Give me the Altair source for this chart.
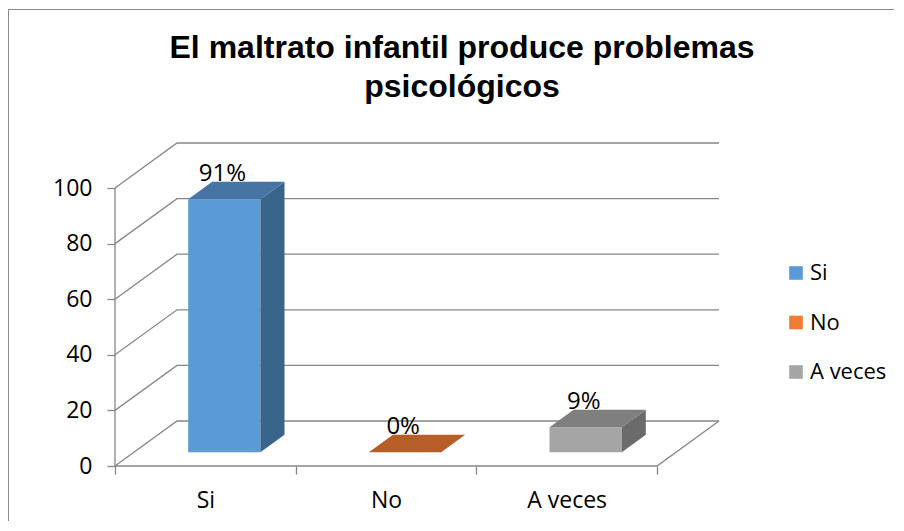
import altair as alt
import pandas as pd

# ---------------- data ----------------
title_lines = ["El maltrato infantil produce problemas", "psicológicos"]
categories = ["Si", "No", "A veces"]
values = [91, 0, 9]
value_labels = ["91%", "0%", "9%"]
y_ticks = [0, 20, 40, 60, 80, 100]

front_colors = ["#5B9BD5", "#ED7D31", "#A5A5A5"]
top_colors = ["#4674A3", "#B65E25", "#7F7F7F"]
side_colors = ["#3A6489", "#9A4E1E", "#6B6B6B"]

# ---------------- layout (3D projection) ----------------
W, H = 886, 513
ORIGIN_X, ORIGIN_Y = 107, 458      # front-plane origin inside the plot
PXX = 180.67                       # px per category
PXY = 2.78                         # px per value unit
x_dom = [-ORIGIN_X / PXX, (W - ORIGIN_X) / PXX]
y_dom = [-(H - ORIGIN_Y) / PXY, ORIGIN_Y / PXY]
WX = 62 / PXX                      # wall depth, x
WY = 45 / PXY                      # wall depth, y
F0, F1 = 0.306, 0.694              # bar depth position (fraction of wall depth)
FD = F1 - F0
BW = 0.4                           # bar width in category units
NC = len(categories)
GRID = "#878787"
FONT = "Open Sans"

# ---------------- derived tables ----------------
lines = []
for v in y_ticks:
    pts = [(0, v), (WX, v + WY), (NC + WX, v + WY)]
    for k, (xx, yy) in enumerate(pts):
        lines.append({"seg": f"g{v}", "o": k, "x": xx, "y": yy})
for k, (xx, yy) in enumerate([(0, 0), (0, max(y_ticks))]):
    lines.append({"seg": "axis", "o": k, "x": xx, "y": yy})
for k, (xx, yy) in enumerate([(0, 0), (NC, 0), (NC + WX, WY)]):
    lines.append({"seg": "floor", "o": k, "x": xx, "y": yy})
lines_df = pd.DataFrame(lines)

front, side, top, lab = [], [], [], []
b = F0 * WY
for i, (cat, v) in enumerate(zip(categories, values)):
    c = i + 0.5 + F0 * WX
    xl, xr = c - BW / 2, c + BW / 2
    front.append({"cat": cat, "x": xl, "x2": xr, "y": b, "y2": b + v})
    side.append({"cat": cat, "col": side_colors[i], "x": xr, "y": b, "y2": b + v})
    side.append({"cat": cat, "col": side_colors[i], "x": xr + FD * WX,
                 "y": b + FD * WY, "y2": b + v + FD * WY})
    top.append({"cat": cat, "col": top_colors[i], "y": b + v, "x": xl, "x2": xr})
    top.append({"cat": cat, "col": top_colors[i], "y": b + v + FD * WY,
                "x": xl + FD * WX, "x2": xr + FD * WX})
    lab.append({"cat": cat, "t": value_labels[i], "x": c - 0.01, "y": b + v + FD * WY})
front_df, side_df, top_df, lab_df = map(pd.DataFrame, (front, side, top, lab))

# ---------------- encodings ----------------
label_expr = " : ".join(
    f"datum.value == {i + 0.5} ? '{c}'" for i, c in enumerate(categories)) + " : ''"
x_values = sorted(set([float(i) for i in range(NC + 1)] + [i + 0.5 for i in range(NC)]))

x_scale = alt.Scale(domain=x_dom, nice=False, zero=False)
y_scale = alt.Scale(domain=y_dom, nice=False, zero=False)
x_axis = alt.Axis(values=x_values, labelExpr=label_expr, offset=-(H - ORIGIN_Y),
                  domain=False, grid=False, tickSize=8, labelPadding=15,
                  labelOverlap=False, title=None,
                  tickOpacity={"condition": {"test": "datum.value % 1 == 0", "value": 1},
                               "value": 0})
y_axis = alt.Axis(values=y_ticks, offset=-ORIGIN_X, domain=False, grid=False,
                  tickSize=8, labelPadding=15, title=None)


def X(f="x"):
    return alt.X(f"{f}:Q", scale=x_scale, axis=x_axis)


def Y(f="y"):
    return alt.Y(f"{f}:Q", scale=y_scale, axis=y_axis)


one = pd.DataFrame({"k": [0]})
border_left = alt.Chart(one).mark_rule(color="#8A8A8A", strokeWidth=1).encode(
    x=alt.value(0.5), y=alt.value(1), y2=alt.value(H))
border_top = alt.Chart(one).mark_rule(color="#8A8A8A", strokeWidth=1).encode(
    x=alt.value(0), x2=alt.value(W), y=alt.value(1.5))

grid = alt.Chart(lines_df).mark_line(color=GRID, strokeWidth=1.3).encode(
    x=X(), y=Y(), detail="seg:N", order="o:Q")

front_layer = alt.Chart(front_df).mark_rect().encode(
    x=X(), x2="x2:Q", y=Y(), y2="y2:Q",
    color=alt.Color("cat:N", scale=alt.Scale(domain=categories, range=front_colors),
                    legend=alt.Legend(title=None, orient="none", legendX=777, legendY=254,
                                      symbolType="square", symbolSize=185,
                                      symbolStrokeWidth=0, labelFont=FONT,
                                      labelFontSize=22, labelColor="black",
                                      rowPadding=27.5, labelOffset=3, padding=0)))

side_layer = alt.Chart(side_df).mark_area(orient="vertical").encode(
    x=X(), y=Y(), y2="y2:Q", fill=alt.Fill("col:N", scale=None), detail="cat:N")

top_layer = alt.Chart(top_df).mark_area(orient="horizontal").encode(
    y=Y(), x=X(), x2="x2:Q", fill=alt.Fill("col:N", scale=None), detail="cat:N")

labels_layer = alt.Chart(lab_df).mark_text(
    font=FONT, fontSize=24, color="black", baseline="alphabetic", dy=-1).encode(
    x=X(), y=Y(), text="t:N")

title_layer = alt.Chart(pd.DataFrame({"t": ["\n".join(title_lines)]})).mark_text(
    font="Liberation Sans", fontWeight="bold", fontSize=32, color="black",
    baseline="top", align="center", lineBreak="\n", lineHeight=39).encode(
    x=alt.value(454), y=alt.value(25), text="t:N")

chart = alt.layer(border_left, border_top, grid, front_layer, side_layer, top_layer,
                  labels_layer, title_layer).properties(
    width=W, height=H, padding=0, background="white",
    autosize=alt.AutoSizeParams(type="none")
).configure_view(stroke=None).configure_axis(
    labelFont=FONT, labelFontSize=23, labelColor="black", tickColor=GRID, tickWidth=1.3
)

chart.save("out.html", embed_options={"renderer": "svg", "actions": False})
